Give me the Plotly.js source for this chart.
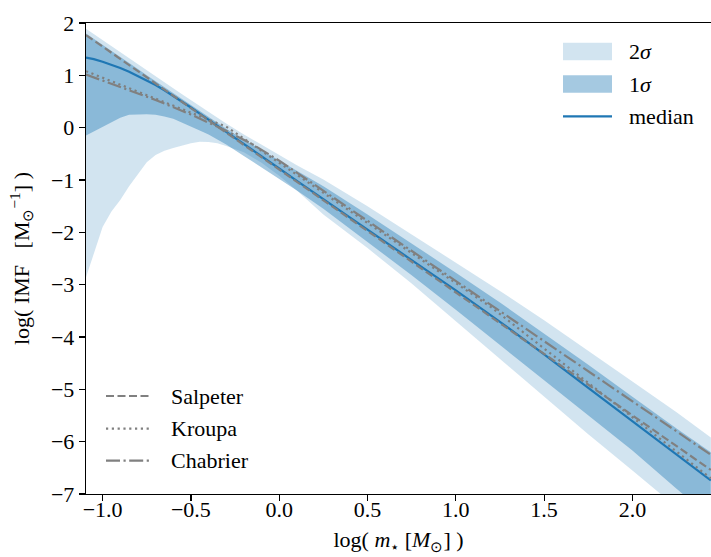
<!DOCTYPE html>
<html>
<head>
<meta charset="utf-8">
<script src="https://cdn.plot.ly/plotly-3.0.1.min.js"></script>
<style>html,body{margin:0;padding:0;background:#fff;overflow:hidden}</style>
</head>
<body>
<div id="chart" style="width:711px;height:557px"></div>
<script>
// ---- data ----
const logMass = [-1.094, -1.05, -1.0, -0.95, -0.9, -0.85, -0.8, -0.75, -0.7, -0.65, -0.6, -0.55, -0.5, -0.45, -0.4, -0.35, -0.3, -0.2, -0.1, 0.0, 0.1, 0.25, 0.5, 0.75, 1.0, 1.25, 1.5, 1.75, 2.0, 2.25, 2.444];
const medianIMF = [1.34, 1.31, 1.26, 1.205, 1.14, 1.07, 0.99, 0.905, 0.815, 0.715, 0.61, 0.50, 0.385, 0.27, 0.155, 0.04, -0.075, -0.31, -0.545, -0.78, -1.015, -1.37, -1.95, -2.53, -3.11, -3.71, -4.33, -4.97, -5.61, -6.24, -6.74];
const sigma1Hi = [1.80, 1.70, 1.585, 1.47, 1.35, 1.235, 1.12, 1.00, 0.885, 0.77, 0.655, 0.54, 0.425, 0.31, 0.20, 0.09, -0.02, -0.23, -0.43, -0.62, -0.83, -1.12, -1.66, -2.21, -2.77, -3.34, -3.93, -4.53, -5.14, -5.75, -6.20];
const sigma1Lo = [-0.15, -0.07, 0.02, 0.11, 0.19, 0.245, 0.255, 0.255, 0.245, 0.215, 0.17, 0.10, 0.025, -0.055, -0.13, -0.22, -0.32, -0.54, -0.76, -0.98, -1.20, -1.55, -2.18, -2.82, -3.48, -4.15, -4.82, -5.50, -6.17, -6.90, -7.45];
const sigma2Hi = [1.89, 1.79, 1.68, 1.565, 1.45, 1.335, 1.22, 1.10, 0.985, 0.87, 0.755, 0.64, 0.525, 0.41, 0.30, 0.19, 0.08, -0.13, -0.33, -0.52, -0.72, -0.99, -1.50, -2.04, -2.58, -3.12, -3.68, -4.26, -4.85, -5.44, -5.92];
const sigma2Lo = [-2.86, -2.40, -1.90, -1.60, -1.38, -1.12, -0.90, -0.66, -0.52, -0.44, -0.39, -0.34, -0.30, -0.27, -0.275, -0.30, -0.35, -0.47, -0.67, -0.92, -1.20, -1.66, -2.30, -2.98, -3.70, -4.42, -5.14, -5.86, -6.55, -7.25, -7.80];

const salpeterX = [-1.094, 0.0, 1.0, 2.0, 2.444];
const salpeterY = [1.77, -0.80, -3.15, -5.50, -6.54];
const kroupaX = [-1.094, -0.7, -0.3, 0.0, 0.5, 1.0, 1.2, 1.5, 2.0, 2.444];
const kroupaY = [1.08, 0.55, 0.02, -0.67, -1.82, -2.97, -3.43, -4.22, -5.54, -6.70];
const chabrierX = [-1.094, -0.9, -0.7, -0.5, -0.3, -0.15, 0.0, 0.5, 1.0, 1.5, 2.0, 2.444];
const chabrierY = [1.015, 0.78, 0.53, 0.25, -0.06, -0.32, -0.63, -1.78, -2.93, -4.08, -5.23, -6.25];

const xTickVals = [-1.0, -0.5, 0.0, 0.5, 1.0, 1.5, 2.0];
const xTickText = ['\u22121.0', '\u22120.5', '0.0', '0.5', '1.0', '1.5', '2.0'];
const yTickVals = [-7, -6, -5, -4, -3, -2, -1, 0, 1, 2];
const yTickText = ['\u22127', '\u22126', '\u22125', '\u22124', '\u22123', '\u22122', '\u22121', '0', '1', '2'];

const bandLabels = ['2<i>\u03c3</i>', '1<i>\u03c3</i>', 'median'];
const refLabels = ['Salpeter', 'Kroupa', 'Chabrier'];

// ---- styles ----
const BLUE = '#1f77b4';
const GRAY = 'rgb(128,128,128)';
const FILL2 = 'rgba(31,119,180,0.2)';
const FILL1 = 'rgba(31,119,180,0.4)';
const DASH = '8px,3.5px';
const DOT = '2.2px,3.6px';
const DASHDOT = '14px,3.5px,2.2px,3.5px';
const FONT = 'Liberation Serif';
const FS = 22;

const traces = [
  {x: logMass, y: sigma2Lo, mode: 'lines', line: {width: 0, color: FILL2}, hoverinfo: 'skip'},
  {x: logMass, y: sigma2Hi, mode: 'lines', line: {width: 0, color: FILL2}, fill: 'tonexty', fillcolor: FILL2, name: '2σ'},
  {x: logMass, y: sigma1Lo, mode: 'lines', line: {width: 0, color: FILL1}, hoverinfo: 'skip'},
  {x: logMass, y: sigma1Hi, mode: 'lines', line: {width: 0, color: FILL1}, fill: 'tonexty', fillcolor: FILL1, name: '1σ'},
  {x: logMass, y: medianIMF, mode: 'lines', line: {width: 2.2, color: BLUE}, name: 'median'},
  {x: salpeterX, y: salpeterY, mode: 'lines', line: {width: 2.2, color: GRAY, dash: DASH}, name: 'Salpeter'},
  {x: kroupaX, y: kroupaY, mode: 'lines', line: {width: 2.2, color: GRAY, dash: DOT}, name: 'Kroupa'},
  {x: chabrierX, y: chabrierY, mode: 'lines', line: {width: 2.2, color: GRAY, dash: DASHDOT}, name: 'Chabrier'}
];

// legend geometry in paper coords (plot area 86..711 x 22.7..493.7 px)
const W = 625, H = 471, L = 86, B = 493.7;
const px = X => (X - L) / W;
const py = Y => (B - Y) / H;

const shapes = [
  {type: 'rect', xref: 'paper', yref: 'paper', x0: px(563), x1: px(612), y0: py(60), y1: py(42.5), fillcolor: FILL2, line: {width: 0}},
  {type: 'rect', xref: 'paper', yref: 'paper', x0: px(563), x1: px(612), y0: py(92.5), y1: py(75), fillcolor: FILL1, line: {width: 0}},
  {type: 'line', xref: 'paper', yref: 'paper', x0: px(563), x1: px(612), y0: py(116), y1: py(116), line: {width: 2.2, color: BLUE}},
  {type: 'line', xref: 'paper', yref: 'paper', x0: px(106), x1: px(152), y0: py(395.7), y1: py(395.7), line: {width: 2.2, color: GRAY, dash: DASH}},
  {type: 'line', xref: 'paper', yref: 'paper', x0: px(106), x1: px(152), y0: py(428.3), y1: py(428.3), line: {width: 2.2, color: GRAY, dash: DOT}},
  {type: 'line', xref: 'paper', yref: 'paper', x0: px(106), x1: px(152), y0: py(460.3), y1: py(460.3), line: {width: 2.2, color: GRAY, dash: DASHDOT}}
];

const bandY = [51, 84, 116];
const refY = [395.7, 428.3, 460.3];
const annotations = [];
bandLabels.forEach((t, i) => annotations.push({xref: 'paper', yref: 'paper', x: px(627), y: py(bandY[i]), text: t, showarrow: false, xanchor: 'left', yanchor: 'middle', font: {family: FONT, size: FS, color: '#000'}}));
refLabels.forEach((t, i) => annotations.push({xref: 'paper', yref: 'paper', x: px(169), y: py(refY[i]), text: t, showarrow: false, xanchor: 'left', yanchor: 'middle', font: {family: FONT, size: FS, color: '#000'}}));

const axisCommon = {
  showgrid: false, zeroline: false, showline: true, linecolor: '#000', linewidth: 1.3,
  ticks: 'outside', ticklen: 6, tickwidth: 1.2, tickcolor: '#000',
  tickfont: {family: FONT, size: FS, color: '#000'}
};

const layout = {
  width: 711, height: 557,
  margin: {l: 86, r: 0, t: 23, b: 63, pad: 0},
  paper_bgcolor: '#fff', plot_bgcolor: '#fff',
  font: {family: FONT, size: FS, color: '#000'},
  showlegend: false,
  xaxis: Object.assign({}, axisCommon, {
    range: [-1.094, 2.445], tickvals: xTickVals, ticktext: xTickText, mirror: true,
    ticklabelstandoff: -11,
    title: {text: 'log(\u00a0<i>m</i><sub>\u22c6</sub>\u00a0[<i>M</i><sub>\u2299</sub>]\u00a0)', font: {family: FONT, size: FS, color: '#000'}, standoff: 11}
  }),
  yaxis: Object.assign({}, axisCommon, {
    range: [-7, 2], tickvals: yTickVals, ticktext: yTickText,
    title: {text: 'log(\u00a0IMF\u00a0\u00a0\u00a0[M<sub>\u2299</sub><sup>\u22121</sup>]\u00a0)', font: {family: FONT, size: FS, color: '#000'}, standoff: 15}
  }),
  shapes: shapes,
  annotations: annotations
};

Plotly.newPlot('chart', traces, layout, {staticPlot: true, displayModeBar: false});
</script>
</body>
</html>
